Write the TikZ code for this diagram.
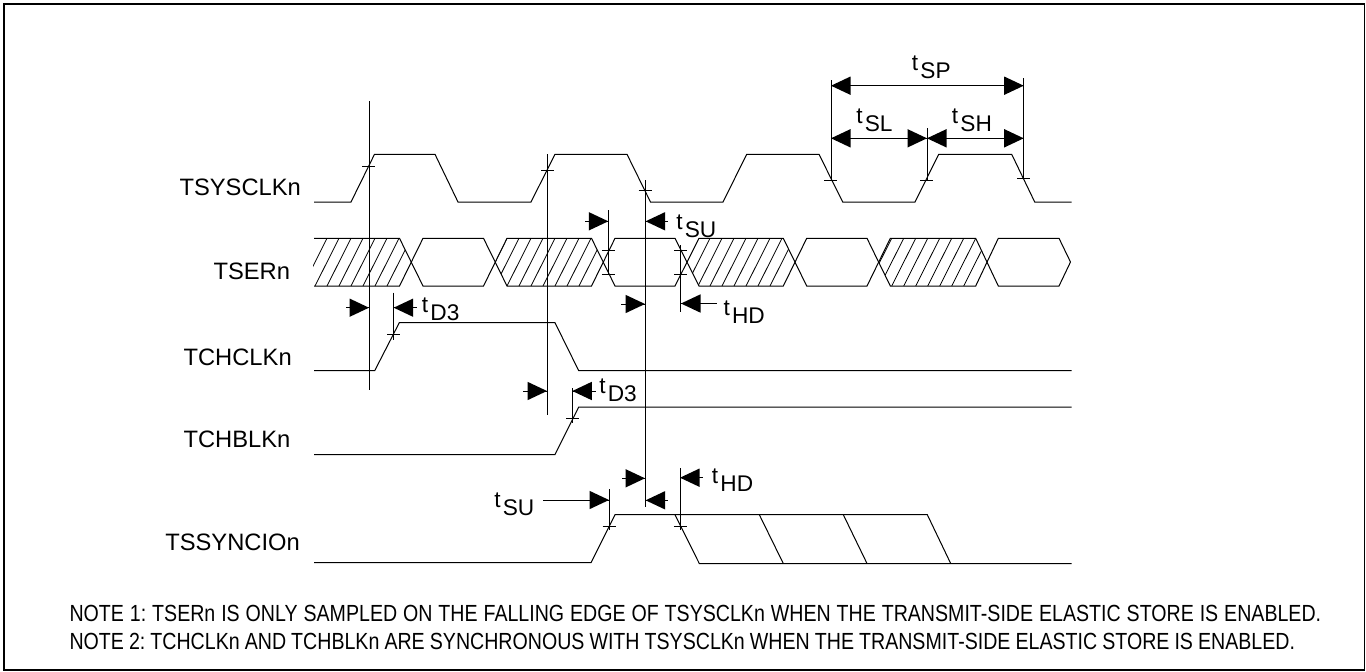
\documentclass[tikz,border=0pt]{standalone}
\usepackage{fontspec}
\setmainfont{Liberation Sans}
\newfontfamily\notefont[FakeStretch=0.84]{Liberation Sans}
\newlength{\pxu}\setlength{\pxu}{0.75pt}
\newcommand{\tsub}[1]{t\kern2.2\pxu\raisebox{-8\pxu}{#1}}
% arrow: #1 tip x, #2 y, #3 tail end x
\newcommand{\harrow}[3]{\draw[dimline] (#1,#2) -- (#3,#2); \fill (#1,#2) -- ({#1+(#3-#1)/abs(#3-#1)*19.5},{#2-9.2}) -- ({#1+(#3-#1)/abs(#3-#1)*19.5},{#2+9.2}) -- cycle;}
\tikzset{
  x=0.75pt,y=-0.75pt,
  wave/.style={draw=black,line width=0.75pt,line join=miter},
  hatchline/.style={draw=black,line width=0.6pt},
  marker/.style={draw=black,line width=0.7pt},
  dimline/.style={draw=black,line width=0.7pt},
  sig/.style={anchor=base west,font=\fontsize{17.8}{20}\selectfont,inner sep=0pt},
  tlab/.style={anchor=base west,font=\fontsize{17}{20}\selectfont,inner sep=0pt},
  note/.style={anchor=base west,font=\notefont\fontsize{17.5}{20}\selectfont\frenchspacing,inner sep=0pt},
}
\newcommand{\vmark}[3]{\draw[marker] (#1,#2) -- (#1,#3);}
\newcommand{\tick}[2]{\draw[marker] ({#1-6.5},#2) -- ({#1+6.5},#2);}
\newcommand{\hatchzone}[2]{% #1 = clip polygon, #2 = list of top x
  \begin{scope}\clip #1;
  \foreach \t in {#2} {\draw[hatchline] (\t,238.3) -- ({\t-24},286);}
  \end{scope}}
\begin{document}
\begin{tikzpicture}
\useasboundingbox (0,0) rectangle (1366,671);
\draw[line width=1.4pt] (4,4) rectangle (1364.5,670);

% TSYSCLKn
\draw[wave] (314,202) -- (351,202) -- (374.5,154.3) -- (435,154.3) -- (458,202) -- (531,202) -- (555,154.3) -- (627,154.3) -- (650.5,202) -- (723,202) -- (746.7,154.3) -- (819,154.3) -- (842.7,202) -- (915,202) -- (938.7,154.3) -- (1011.7,154.3) -- (1034.7,202) -- (1071.5,202);

% TSERn
\hatchzone{(313,238.3) -- (399.5,238.3) -- (411,262) -- (399.5,286) -- (313,286) -- cycle}{327,339,351,363,375,387,399,411}
\hatchzone{(495,262) -- (507,238.3) -- (591.5,238.3) -- (603,262) -- (591.5,286) -- (507,286) -- cycle}{507,519,531,543,555,567,579,591,603}
\hatchzone{(687,262) -- (699,238.3) -- (783.3,238.3) -- (795,262) -- (783.3,286) -- (699,286) -- cycle}{698,710,722,734,746,758,770,782,794}
\hatchzone{(879,262) -- (890.3,238.3) -- (975.7,238.3) -- (987,262) -- (975.7,286) -- (890.3,286) -- cycle}{891.7,903.7,915.7,927.7,939.7,951.7,963.7,975.7,987.7}
\draw[wave] (314,238.3) -- (399.5,238.3) -- (423,286) -- (483.5,286) -- (507,238.3) -- (591.5,238.3) -- (615,286) -- (675,286) -- (699,238.3) -- (783.3,238.3) -- (806.7,286) -- (867,286) -- (890.3,238.3) -- (975.7,238.3) -- (998.3,286) -- (1059,286) -- (1070.5,262);
\draw[wave] (314,286) -- (399.5,286) -- (423,238.3) -- (483.5,238.3) -- (507,286) -- (591.5,286) -- (615,238.3) -- (675,238.3) -- (699,286) -- (783.3,286) -- (806.7,238.3) -- (867,238.3) -- (890.3,286) -- (975.7,286) -- (998.3,238.3) -- (1059,238.3) -- (1070.5,262);

% TCHCLKn
\draw[wave] (314,370.7) -- (374.7,370.7) -- (399.3,322.7) -- (555,322.7) -- (578.7,370.7) -- (1071.5,370.7);
% TCHBLKn
\draw[wave] (314,454.5) -- (555,454.5) -- (578.7,407) -- (1071.5,407);
% TSSYNCIOn
\draw[wave] (314,562.7) -- (591,562.7) -- (615,514.7) -- (927.3,514.7) -- (950.7,563.5);
\draw[wave] (675,514.7) -- (699.3,563.5) -- (1071.5,563.5);
\draw[wave] (759.3,514.7) -- (783.3,563.5);
\draw[wave] (843.3,514.7) -- (867,563.5);

% vertical markers and ticks
\vmark{369}{101}{390} \tick{368.5}{166}
\vmark{547}{154}{415.3} \tick{547.5}{170}
\vmark{645.6}{180}{506.7} \tick{645}{190.3}
\vmark{608.5}{210}{275} \tick{608.3}{250} \tick{608.3}{274.3}
\vmark{680.7}{245}{311.7} \tick{680.7}{250} \tick{680.7}{274.3}
\vmark{393.7}{292.7}{340} \tick{393.7}{334}
\vmark{572.3}{388.3}{423.3} \tick{572.7}{418.7}
\vmark{609}{489}{530} \tick{609}{526}
\vmark{680}{468}{530} \tick{680.3}{526}
\vmark{831}{80}{180} \tick{830.5}{180}
\vmark{927}{128}{180} \tick{926.7}{180}
\vmark{1023.7}{78}{178} \tick{1023.7}{178}

% dimension arrows
\harrow{831}{85.7}{927}
\harrow{1023.7}{85.7}{927}
\harrow{831}{138.3}{880}
\harrow{927}{138.3}{880}
\harrow{927}{138.3}{975}
\harrow{1023.7}{138.3}{975}
\harrow{369}{307.7}{346}
\harrow{393.7}{307.7}{416.7}
\harrow{608.3}{221.3}{585}
\harrow{645.6}{221.3}{668}
\harrow{645}{304}{621}
\harrow{681}{303.5}{716.7}
\harrow{547}{391}{523}
\harrow{572.3}{391}{596}
\harrow{645}{478.3}{622}
\harrow{645.6}{500.3}{668}
\harrow{680}{477.7}{703}
\harrow{609}{500}{543}

% signal labels
\node[sig] (lsys) at (179.3,195) {TSYSCLKn};
\node[sig] (lser) at (213.3,279.3) {TSERn};
\node[sig] (lclk) at (183.3,365) {TCHCLKn};
\node[sig] (lblk) at (183.3,447.7) {TCHBLKn};
\node[sig] (lsync) at (165,550) {TSSYNCIOn};

% timing labels
\node[tlab] (tsp) at (911.7,70) {\tsub{SP}};
\node[tlab] (tsl) at (856,123) {\tsub{SL}};
\node[tlab] (tsh) at (951.7,123) {\tsub{SH}};
\node[tlab] (tsua) at (676,229.5) {\tsub{SU}};
\node[tlab] (thda) at (723.3,315.3) {\tsub{HD}};
\node[tlab] (td3a) at (421.7,312.7) {\tsub{D3}};
\node[tlab] (td3b) at (599,393.7) {\tsub{D3}};
\node[tlab] (thdb) at (711.7,483.7) {\tsub{HD}};
\node[tlab] (tsub) at (494,507) {\tsub{SU}};

% notes
\node[note] (n1) at (69.3,621.7) {\spaceskip=4.44pt NOTE 1: TSERn IS ONLY SAMPLED ON THE FALLING EDGE OF TSYSCLKn WHEN THE TRANSMIT-SIDE ELASTIC STORE IS ENABLED.};
\node[note] (n2) at (69.3,649.3) {\spaceskip=3.79pt NOTE 2: TCHCLKn AND TCHBLKn ARE SYNCHRONOUS WITH TSYSCLKn WHEN THE TRANSMIT-SIDE ELASTIC STORE IS ENABLED.};
\end{tikzpicture}
\end{document}
